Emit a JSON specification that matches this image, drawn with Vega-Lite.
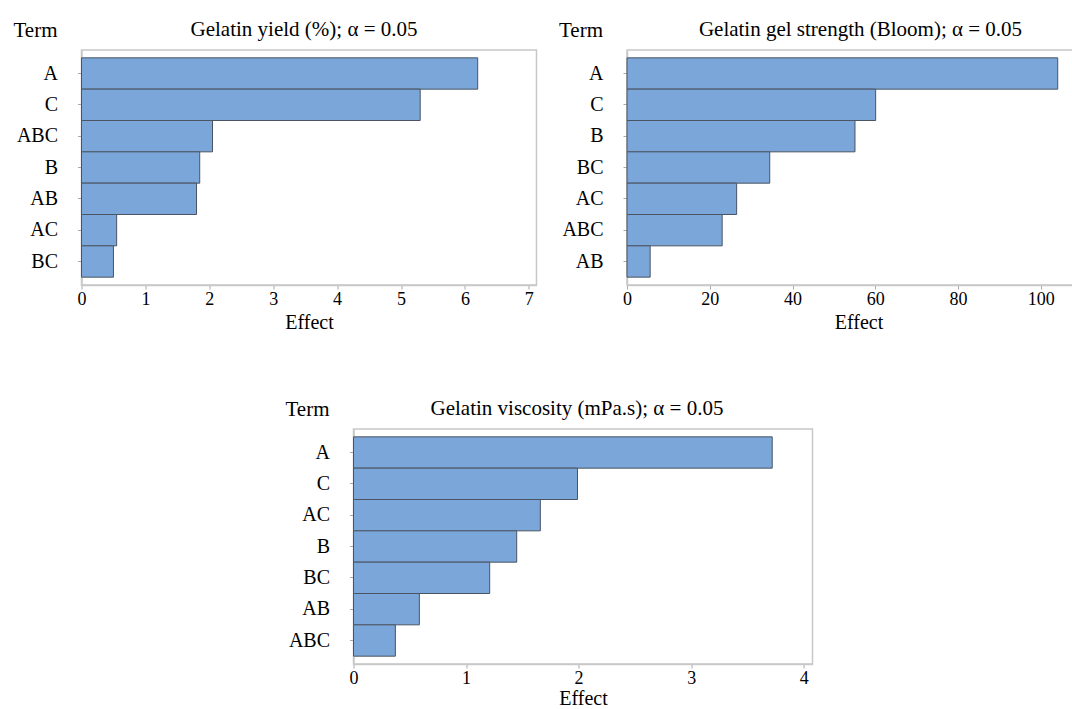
{
  "$schema": "https://vega.github.io/schema/vega-lite/v6.json",
  "background": "white",
  "padding": {"left": 11.5, "top": 18, "right": 0, "bottom": 0},
  "config": {
    "font": "Liberation Serif",
    "view": {"stroke": "#c8c8c8", "strokeWidth": 1.5},
    "axis": {
      "grid": false,
      "domainColor": "#c8c8c8",
      "domainWidth": 1.5,
      "tickColor": "#a8a8a8",
      "tickSize": 4,
      "labelColor": "black",
      "titleColor": "black",
      "labelFont": "Liberation Serif",
      "titleFont": "Liberation Serif",
      "titleFontWeight": "normal"
    },
    "axisX": {"labelFontSize": 18, "labelPadding": 1, "labelFlush": false, "titleFontSize": 20, "titlePadding": 4},
    "axisY": {
      "labelFontSize": 20, "labelPadding": 20,
      "titleFontSize": 21, "titleAngle": 0, "titleAlign": "right", "titleBaseline": "alphabetic",
      "titleX": -24.5, "titleY": -13.5
    },
    "title": {"font": "Liberation Serif", "fontSize": 21, "fontWeight": "normal", "color": "black", "anchor": "middle", "frame": "group", "baseline": "alphabetic", "offset": -20.5},
    "bar": {"fill": "#7ba6d9", "stroke": "#4a5462", "strokeWidth": 1},
    "scale": {"bandPaddingInner": 0, "bandPaddingOuter": 0.25}
  },
  "datasets": {
    "yield": [
      {"term": "A", "effect": 6.20},
      {"term": "C", "effect": 5.30},
      {"term": "ABC", "effect": 2.05},
      {"term": "B", "effect": 1.85},
      {"term": "AB", "effect": 1.80},
      {"term": "AC", "effect": 0.55},
      {"term": "BC", "effect": 0.50}
    ],
    "strength": [
      {"term": "A", "effect": 104.1},
      {"term": "C", "effect": 60.1},
      {"term": "B", "effect": 55.1},
      {"term": "BC", "effect": 34.5},
      {"term": "AC", "effect": 26.5},
      {"term": "ABC", "effect": 23.0},
      {"term": "AB", "effect": 5.6}
    ],
    "viscosity": [
      {"term": "A", "effect": 3.72},
      {"term": "C", "effect": 1.99},
      {"term": "AC", "effect": 1.66},
      {"term": "B", "effect": 1.45},
      {"term": "BC", "effect": 1.21},
      {"term": "AB", "effect": 0.585},
      {"term": "ABC", "effect": 0.372}
    ]
  },
  "vconcat": [
    {
      "hconcat": [
        {
          "width": 455, "height": 235,
          "title": {"text": "Gelatin yield (%); α = 0.05", "dx": -5},
          "data": {"name": "yield"},
          "mark": "bar",
          "encoding": {
            "y": {"field": "term", "type": "nominal", "sort": "-x", "axis": {"title": "Term"}},
            "x": {"field": "effect", "type": "quantitative", "scale": {"domain": [0, 7.12], "nice": false}, "axis": {"title": "Effect", "values": [0, 1, 2, 3, 4, 5, 6, 7], "labelFontSize": 18, "labelFlush": false}}
          }
        },
        {
          "width": 463, "height": 235,
          "title": {"text": "Gelatin gel strength (Bloom); α = 0.05", "dx": 2},
          "data": {"name": "strength"},
          "mark": "bar",
          "encoding": {
            "y": {"field": "term", "type": "nominal", "sort": "-x", "axis": {"title": "Term"}},
            "x": {"field": "effect", "type": "quantitative", "scale": {"domain": [0, 111.9], "nice": false}, "axis": {"title": "Effect", "values": [0, 20, 40, 60, 80, 100], "labelFontSize": 18, "labelFlush": false}}
          }
        }
      ],
      "spacing": 19.5
    },
    {
      "hconcat": [
        {
          "width": 202, "height": 235,
          "view": {"stroke": null},
          "data": {"values": [{}]},
          "mark": {"type": "point", "opacity": 0},
          "encoding": {}
        },
        {
          "width": 459, "height": 235,
          "title": {"text": "Gelatin viscosity (mPa.s); α = 0.05", "dx": -6},
          "data": {"name": "viscosity"},
          "mark": "bar",
          "encoding": {
            "y": {"field": "term", "type": "nominal", "sort": "-x", "axis": {"title": "Term"}},
            "x": {"field": "effect", "type": "quantitative", "scale": {"domain": [0, 4.078], "nice": false}, "axis": {"title": "Effect", "values": [0, 1, 2, 3, 4], "labelFontSize": 18, "labelFlush": false, "titlePadding": 1}}
          }
        }
      ],
      "spacing": 0
    }
  ],
  "spacing": 64
}
